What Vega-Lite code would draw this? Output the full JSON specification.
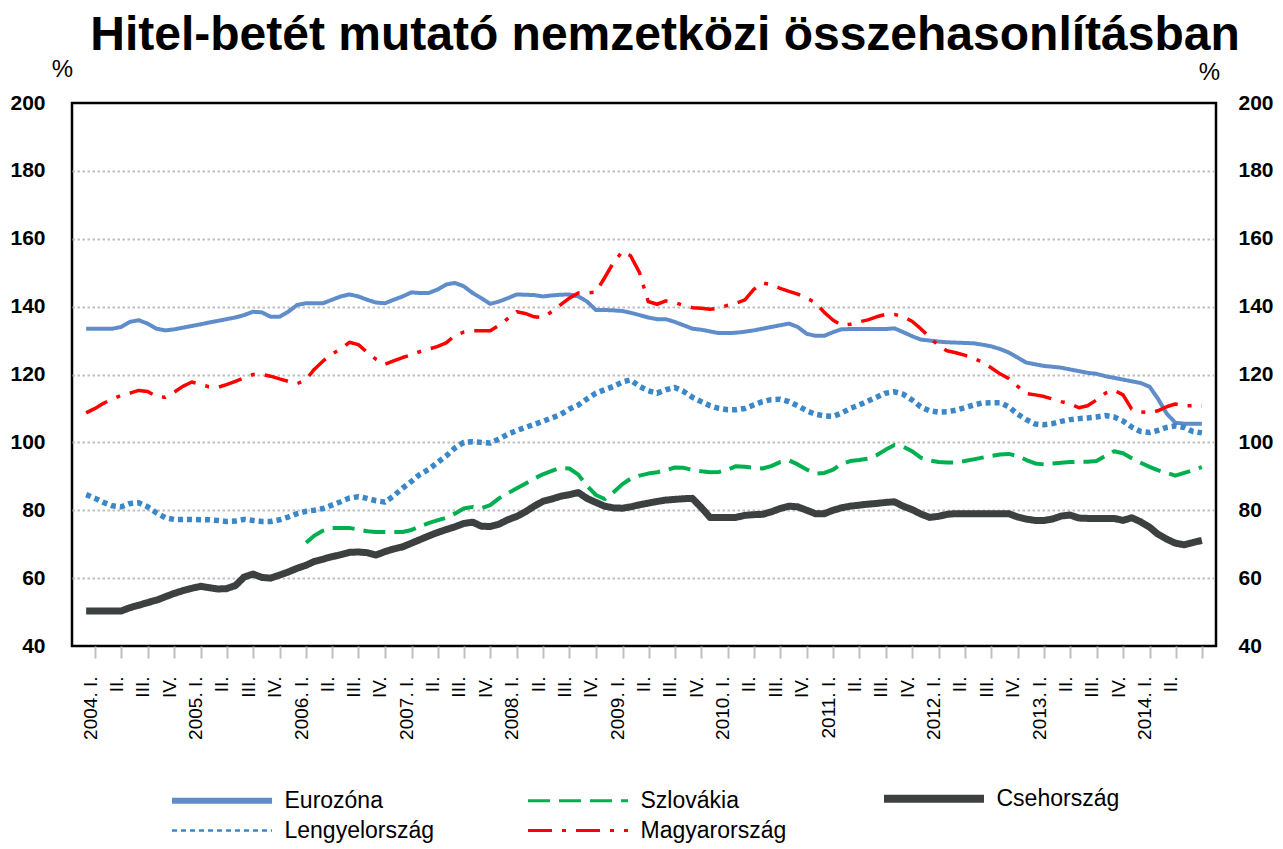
{
"$schema": "https://vega.github.io/schema/vega-lite/v6.json",
"width": 1144, "height": 543,
"autosize": {"type": "none"},
"padding": {"left": 72, "top": 103, "right": 67, "bottom": 203},
"background": "white",
"title": {"text": "Hitel-betét mutató nemzetközi összehasonlításban", "font": "Liberation Sans", "fontSize": 48, "fontWeight": "bold", "color": "black", "anchor": "middle", "frame": "group", "dx": 21, "offset": -3},
"data": {"values": [
{"d":"2004-01","Eurozóna":133.5,"Lengyelország":84.6,"Magyarország":108.7,"Csehország":50.3},
{"d":"2004-02","Eurozóna":133.5,"Lengyelország":83.5,"Magyarország":110,"Csehország":50.3},
{"d":"2004-03","Eurozóna":133.5,"Lengyelország":82.3,"Magyarország":111.5,"Csehország":50.3},
{"d":"2004-04","Eurozóna":133.5,"Lengyelország":81.3,"Magyarország":112.8,"Csehország":50.3},
{"d":"2004-05","Eurozóna":134,"Lengyelország":81,"Magyarország":113.8,"Csehország":50.3},
{"d":"2004-06","Eurozóna":135.5,"Lengyelország":82,"Magyarország":114.5,"Csehország":51.3},
{"d":"2004-07","Eurozóna":136,"Lengyelország":82.2,"Magyarország":115.3,"Csehország":52},
{"d":"2004-08","Eurozóna":135,"Lengyelország":81,"Magyarország":115,"Csehország":52.8},
{"d":"2004-09","Eurozóna":133.5,"Lengyelország":79.2,"Magyarország":113.5,"Csehország":53.5},
{"d":"2004-10","Eurozóna":133,"Lengyelország":77.8,"Magyarország":113.3,"Csehország":54.5},
{"d":"2004-11","Eurozóna":133.3,"Lengyelország":77.3,"Magyarország":114.8,"Csehország":55.5},
{"d":"2004-12","Eurozóna":133.8,"Lengyelország":77.3,"Magyarország":116.5,"Csehország":56.3},
{"d":"2005-01","Eurozóna":134.3,"Lengyelország":77.3,"Magyarország":117.8,"Csehország":57},
{"d":"2005-02","Eurozóna":134.8,"Lengyelország":77.2,"Magyarország":117,"Csehország":57.6},
{"d":"2005-03","Eurozóna":135.3,"Lengyelország":77.2,"Magyarország":116.4,"Csehország":57.2},
{"d":"2005-04","Eurozóna":135.8,"Lengyelország":77,"Magyarország":116.2,"Csehország":56.8},
{"d":"2005-05","Eurozóna":136.3,"Lengyelország":76.7,"Magyarország":117,"Csehország":56.9},
{"d":"2005-06","Eurozóna":136.8,"Lengyelország":76.8,"Magyarország":118,"Csehország":57.8},
{"d":"2005-07","Eurozóna":137.5,"Lengyelország":77.3,"Magyarország":119,"Csehország":60.3},
{"d":"2005-08","Eurozóna":138.5,"Lengyelország":77,"Magyarország":120,"Csehország":61.2},
{"d":"2005-09","Eurozóna":138.3,"Lengyelország":76.7,"Magyarország":120,"Csehország":60.2},
{"d":"2005-10","Eurozóna":137,"Lengyelország":76.7,"Magyarország":119.5,"Csehország":60},
{"d":"2005-11","Eurozóna":137,"Lengyelország":77.2,"Magyarország":118.7,"Csehország":60.9},
{"d":"2005-12","Eurozóna":138.5,"Lengyelország":78,"Magyarország":118,"Csehország":61.8},
{"d":"2006-01","Eurozóna":140.5,"Lengyelország":79,"Magyarország":117.3,"Csehország":62.9},
{"d":"2006-02","Eurozóna":141,"Lengyelország":79.7,"Magyarország":118.5,"Csehország":63.8,"Szlovákia":70.4},
{"d":"2006-03","Eurozóna":141,"Lengyelország":80,"Magyarország":121.5,"Csehország":64.9,"Szlovákia":72.5},
{"d":"2006-04","Eurozóna":141,"Lengyelország":80.5,"Magyarország":124,"Csehország":65.6,"Szlovákia":74},
{"d":"2006-05","Eurozóna":142,"Lengyelország":81.5,"Magyarország":126,"Csehország":66.3,"Szlovákia":74.8},
{"d":"2006-06","Eurozóna":143,"Lengyelország":82.5,"Magyarország":127.5,"Csehország":66.9,"Szlovákia":74.8},
{"d":"2006-07","Eurozóna":143.6,"Lengyelország":83.6,"Magyarország":129.5,"Csehország":67.6,"Szlovákia":74.8},
{"d":"2006-08","Eurozóna":143,"Lengyelország":84,"Magyarország":128.8,"Csehország":67.7,"Szlovákia":74.3},
{"d":"2006-09","Eurozóna":142,"Lengyelország":83.5,"Magyarország":126.5,"Csehország":67.5,"Szlovákia":73.8},
{"d":"2006-10","Eurozóna":141.2,"Lengyelország":82.8,"Magyarország":124.5,"Csehország":66.8,"Szlovákia":73.6},
{"d":"2006-11","Eurozóna":141,"Lengyelország":82.4,"Magyarország":123,"Csehország":67.8,"Szlovákia":73.6},
{"d":"2006-12","Eurozóna":142,"Lengyelország":84.2,"Magyarország":124,"Csehország":68.6,"Szlovákia":73.6},
{"d":"2007-01","Eurozóna":143,"Lengyelország":86.5,"Magyarország":125,"Csehország":69.2,"Szlovákia":73.6},
{"d":"2007-02","Eurozóna":144.2,"Lengyelország":88.5,"Magyarország":125.8,"Csehország":70.3,"Szlovákia":74.2},
{"d":"2007-03","Eurozóna":144,"Lengyelország":90.5,"Magyarország":126.7,"Csehország":71.3,"Szlovákia":75.2},
{"d":"2007-04","Eurozóna":144,"Lengyelország":92,"Magyarország":127.5,"Csehország":72.4,"Szlovákia":76.2},
{"d":"2007-05","Eurozóna":145,"Lengyelország":94,"Magyarország":128.2,"Csehország":73.4,"Szlovákia":77},
{"d":"2007-06","Eurozóna":146.5,"Lengyelország":96,"Magyarország":129.3,"Csehország":74.3,"Szlovákia":77.8},
{"d":"2007-07","Eurozóna":147,"Lengyelország":98.3,"Magyarország":131.5,"Csehország":75.1,"Szlovákia":79},
{"d":"2007-08","Eurozóna":146,"Lengyelország":100,"Magyarország":132.5,"Csehország":76.1,"Szlovákia":80.5},
{"d":"2007-09","Eurozóna":144,"Lengyelország":100.2,"Magyarország":132.9,"Csehország":76.5,"Szlovákia":81},
{"d":"2007-10","Eurozóna":142.5,"Lengyelország":100,"Magyarország":132.9,"Csehország":75.3,"Szlovákia":80.6},
{"d":"2007-11","Eurozóna":140.8,"Lengyelország":99.8,"Magyarország":132.9,"Csehország":75.2,"Szlovákia":81.5},
{"d":"2007-12","Eurozóna":141.5,"Lengyelország":101,"Magyarország":134.5,"Csehország":75.9,"Szlovákia":83.5},
{"d":"2008-01","Eurozóna":142.5,"Lengyelország":102.4,"Magyarország":136.5,"Csehország":77.2,"Szlovákia":85},
{"d":"2008-02","Eurozóna":143.6,"Lengyelország":103.5,"Magyarország":138.5,"Csehország":78.2,"Szlovákia":86.5},
{"d":"2008-03","Eurozóna":143.5,"Lengyelország":104.4,"Magyarország":138,"Csehország":79.5,"Szlovákia":87.8},
{"d":"2008-04","Eurozóna":143.4,"Lengyelország":105.3,"Magyarország":137,"Csehország":81.2,"Szlovákia":89.3},
{"d":"2008-05","Eurozóna":143,"Lengyelország":106.2,"Magyarország":136.8,"Csehország":82.6,"Szlovákia":90.6},
{"d":"2008-06","Eurozóna":143.3,"Lengyelország":107.2,"Magyarország":138.5,"Csehország":83.3,"Szlovákia":91.6},
{"d":"2008-07","Eurozóna":143.5,"Lengyelország":108.2,"Magyarország":140.5,"Csehország":84.1,"Szlovákia":92.5},
{"d":"2008-08","Eurozóna":143.6,"Lengyelország":109.8,"Magyarország":142.5,"Csehország":84.6,"Szlovákia":92.3},
{"d":"2008-09","Eurozóna":143,"Lengyelország":111,"Magyarország":144,"Csehország":85.2,"Szlovákia":90.5},
{"d":"2008-10","Eurozóna":141.5,"Lengyelország":112.8,"Magyarország":144,"Csehország":83.5,"Szlovákia":87.2},
{"d":"2008-11","Eurozóna":139,"Lengyelország":114.5,"Magyarország":144.3,"Csehország":82.3,"Szlovákia":84.5},
{"d":"2008-12","Eurozóna":139,"Lengyelország":115.5,"Magyarország":148.5,"Csehország":81.2,"Szlovákia":83.3},
{"d":"2009-01","Eurozóna":138.9,"Lengyelország":116.5,"Magyarország":153,"Csehország":80.7,"Szlovákia":85.3},
{"d":"2009-02","Eurozóna":138.7,"Lengyelország":117.8,"Magyarország":156.3,"Csehország":80.6,"Szlovákia":87.7},
{"d":"2009-03","Eurozóna":138.2,"Lengyelország":118.4,"Magyarország":155,"Csehország":81,"Szlovákia":89.3},
{"d":"2009-04","Eurozóna":137.5,"Lengyelország":116.5,"Magyarország":150,"Csehország":81.6,"Szlovákia":90.2},
{"d":"2009-05","Eurozóna":136.8,"Lengyelország":115.2,"Magyarország":141.5,"Csehország":82.1,"Szlovákia":90.8},
{"d":"2009-06","Eurozóna":136.3,"Lengyelország":114.5,"Magyarország":140.7,"Csehország":82.6,"Szlovákia":91.2},
{"d":"2009-07","Eurozóna":136.3,"Lengyelország":115.5,"Magyarország":141.7,"Csehország":83,"Szlovákia":91.8},
{"d":"2009-08","Eurozóna":135.5,"Lengyelország":116.2,"Magyarország":141.2,"Csehország":83.2,"Szlovákia":92.6},
{"d":"2009-09","Eurozóna":134.5,"Lengyelország":115,"Magyarország":140.3,"Csehország":83.4,"Szlovákia":92.5},
{"d":"2009-10","Eurozóna":133.5,"Lengyelország":113.3,"Magyarország":139.7,"Csehország":83.5,"Szlovákia":91.9},
{"d":"2009-11","Eurozóna":133.2,"Lengyelország":112,"Magyarország":139.5,"Csehország":80.8,"Szlovákia":91.5},
{"d":"2009-12","Eurozóna":132.7,"Lengyelország":110.8,"Magyarország":139.2,"Csehország":77.9,"Szlovákia":91.2},
{"d":"2010-01","Eurozóna":132.2,"Lengyelország":110,"Magyarország":139.6,"Csehország":77.9,"Szlovákia":91.3},
{"d":"2010-02","Eurozóna":132.2,"Lengyelország":109.6,"Magyarország":140.4,"Csehország":77.9,"Szlovákia":92},
{"d":"2010-03","Eurozóna":132.3,"Lengyelország":109.6,"Magyarország":141,"Csehország":77.9,"Szlovákia":93},
{"d":"2010-04","Eurozóna":132.6,"Lengyelország":110,"Magyarország":142,"Csehország":78.5,"Szlovákia":92.8},
{"d":"2010-05","Eurozóna":133,"Lengyelország":111,"Magyarország":145,"Csehország":78.7,"Szlovákia":92.5},
{"d":"2010-06","Eurozóna":133.5,"Lengyelország":112,"Magyarország":147,"Csehország":78.8,"Szlovákia":92.3},
{"d":"2010-07","Eurozóna":134,"Lengyelország":112.6,"Magyarország":146.5,"Csehország":79.5,"Szlovákia":93},
{"d":"2010-08","Eurozóna":134.5,"Lengyelország":112.7,"Magyarország":145.4,"Csehország":80.5,"Szlovákia":94.2},
{"d":"2010-09","Eurozóna":135,"Lengyelország":112,"Magyarország":144.5,"Csehország":81.2,"Szlovákia":94.7},
{"d":"2010-10","Eurozóna":134,"Lengyelország":110.8,"Magyarország":143.7,"Csehország":81,"Szlovákia":93.5},
{"d":"2010-11","Eurozóna":132,"Lengyelország":109.3,"Magyarország":142.5,"Csehország":80,"Szlovákia":92},
{"d":"2010-12","Eurozóna":131.4,"Lengyelország":108.3,"Magyarország":141.2,"Csehország":79,"Szlovákia":90.8},
{"d":"2011-01","Eurozóna":131.4,"Lengyelország":107.8,"Magyarország":138.3,"Csehország":79,"Szlovákia":91},
{"d":"2011-02","Eurozóna":132.5,"Lengyelország":107.7,"Magyarország":136,"Csehország":80,"Szlovákia":92},
{"d":"2011-03","Eurozóna":133.3,"Lengyelország":108.6,"Magyarország":134.5,"Csehország":80.7,"Szlovákia":93.6},
{"d":"2011-04","Eurozóna":133.4,"Lengyelország":110,"Magyarország":134.8,"Csehország":81.2,"Szlovákia":94.5},
{"d":"2011-05","Eurozóna":133.4,"Lengyelország":111,"Magyarország":135.5,"Csehország":81.5,"Szlovákia":94.8},
{"d":"2011-06","Eurozóna":133.4,"Lengyelország":112.2,"Magyarország":136.1,"Csehország":81.8,"Szlovákia":95.2},
{"d":"2011-07","Eurozóna":133.4,"Lengyelország":113.3,"Magyarország":137,"Csehország":82,"Szlovákia":96.2},
{"d":"2011-08","Eurozóna":133.4,"Lengyelország":114.5,"Magyarország":137.7,"Csehország":82.3,"Szlovákia":97.8},
{"d":"2011-09","Eurozóna":133.6,"Lengyelország":114.9,"Magyarország":137.7,"Csehország":82.5,"Szlovákia":99.2},
{"d":"2011-10","Eurozóna":132.5,"Lengyelország":114.2,"Magyarország":137,"Csehország":81.2,"Szlovákia":98.8},
{"d":"2011-11","Eurozóna":131.3,"Lengyelország":112.5,"Magyarország":135.7,"Csehország":80.2,"Szlovákia":97.4},
{"d":"2011-12","Eurozóna":130.3,"Lengyelország":110.5,"Magyarország":133.5,"Csehország":78.9,"Szlovákia":95.5},
{"d":"2012-01","Eurozóna":130,"Lengyelország":109.3,"Magyarország":131,"Csehország":77.9,"Szlovákia":94.7},
{"d":"2012-02","Eurozóna":129.7,"Lengyelország":108.9,"Magyarország":128.5,"Csehország":78.2,"Szlovákia":94.2},
{"d":"2012-03","Eurozóna":129.5,"Lengyelország":109,"Magyarország":127,"Csehország":78.8,"Szlovákia":94.1},
{"d":"2012-04","Eurozóna":129.4,"Lengyelország":109.5,"Magyarország":126.4,"Csehország":79,"Szlovákia":94.1},
{"d":"2012-05","Eurozóna":129.3,"Lengyelország":110.2,"Magyarország":125.7,"Csehország":79,"Szlovákia":94.5},
{"d":"2012-06","Eurozóna":129.2,"Lengyelország":111,"Magyarország":124.8,"Csehország":79,"Szlovákia":95},
{"d":"2012-07","Eurozóna":128.8,"Lengyelország":111.6,"Magyarország":123.7,"Csehország":79,"Szlovákia":95.5},
{"d":"2012-08","Eurozóna":128.3,"Lengyelország":111.7,"Magyarország":122,"Csehország":79,"Szlovákia":96},
{"d":"2012-09","Eurozóna":127.5,"Lengyelország":111.7,"Magyarország":120.2,"Csehország":79,"Szlovákia":96.4},
{"d":"2012-10","Eurozóna":126.5,"Lengyelország":110.5,"Magyarország":118.8,"Csehország":79,"Szlovákia":96.6},
{"d":"2012-11","Eurozóna":125,"Lengyelország":108.3,"Magyarország":116.5,"Csehország":78,"Szlovákia":96},
{"d":"2012-12","Eurozóna":123.5,"Lengyelország":106.7,"Magyarország":114.4,"Csehország":77.4,"Szlovákia":94.8},
{"d":"2013-01","Eurozóna":123,"Lengyelország":105.4,"Magyarország":114,"Csehország":77,"Szlovákia":93.8},
{"d":"2013-02","Eurozóna":122.5,"Lengyelország":105.2,"Magyarország":113.5,"Csehország":77,"Szlovákia":93.5},
{"d":"2013-03","Eurozóna":122.3,"Lengyelország":105.5,"Magyarország":112.8,"Csehország":77.4,"Szlovákia":93.8},
{"d":"2013-04","Eurozóna":122,"Lengyelország":106.2,"Magyarország":112,"Csehország":78.3,"Szlovákia":94},
{"d":"2013-05","Eurozóna":121.5,"Lengyelország":106.7,"Magyarország":111.4,"Csehország":78.6,"Szlovákia":94.2},
{"d":"2013-06","Eurozóna":121,"Lengyelország":107,"Magyarország":110.2,"Csehország":77.7,"Szlovákia":94.3},
{"d":"2013-07","Eurozóna":120.5,"Lengyelország":107.2,"Magyarország":110.8,"Csehország":77.6,"Szlovákia":94.3},
{"d":"2013-08","Eurozóna":120.2,"Lengyelország":107.5,"Magyarország":112.5,"Csehország":77.6,"Szlovákia":94.5},
{"d":"2013-09","Eurozóna":119.5,"Lengyelország":107.9,"Magyarország":114.5,"Csehország":77.6,"Szlovákia":96},
{"d":"2013-10","Eurozóna":119,"Lengyelország":107.5,"Magyarország":115.4,"Csehország":77.6,"Szlovákia":97.4},
{"d":"2013-11","Eurozóna":118.5,"Lengyelország":106.3,"Magyarország":114,"Csehország":77,"Szlovákia":96.8},
{"d":"2013-12","Eurozóna":118,"Lengyelország":104.5,"Magyarország":109.8,"Csehország":77.8,"Szlovákia":95.3},
{"d":"2014-01","Eurozóna":117.5,"Lengyelország":103.2,"Magyarország":109,"Csehország":76.6,"Szlovákia":94},
{"d":"2014-02","Eurozóna":116.4,"Lengyelország":102.9,"Magyarország":108.7,"Csehország":75,"Szlovákia":92.8},
{"d":"2014-03","Eurozóna":113,"Lengyelország":103.5,"Magyarország":109.3,"Csehország":73,"Szlovákia":91.8},
{"d":"2014-04","Eurozóna":108.5,"Lengyelország":104.4,"Magyarország":110.5,"Csehország":71.5,"Szlovákia":91},
{"d":"2014-05","Eurozóna":105.8,"Lengyelország":104.9,"Magyarország":111.3,"Csehország":70.3,"Szlovákia":90.2},
{"d":"2014-06","Eurozóna":105.5,"Lengyelország":104.4,"Magyarország":110.8,"Csehország":69.8,"Szlovákia":91},
{"d":"2014-07","Eurozóna":105.5,"Lengyelország":103.2,"Magyarország":110.8,"Csehország":70.5,"Szlovákia":91.8},
{"d":"2014-08","Eurozóna":105.5,"Lengyelország":102.8,"Magyarország":110.8,"Csehország":71.1,"Szlovákia":92.7}
]},
"transform": [{"fold": ["Csehország", "Eurozóna", "Lengyelország", "Szlovákia", "Magyarország"], "as": ["series", "v"]}],
"layer": [
 {
  "mark": {"type": "line", "strokeCap": "butt", "strokeJoin": "round"},
  "encoding": {
   "x": {"field": "d", "type": "temporal",
     "scale": {"type": "utc", "domain": [{"year": 2003, "month": 11, "date": 13, "utc": true}, {"year": 2014, "month": 9, "date": 19, "utc": true}]},
     "axis": {"title": null, "grid": false, "domain": false, "tickCount": {"interval": "month", "step": 3},
       "labelExpr": "utcmonth(datum.value)==0 ? utcyear(datum.value) + '. I.' : utcmonth(datum.value)==3 ? 'II.' : utcmonth(datum.value)==6 ? (utcyear(datum.value)>=2014 ? '' : 'III.') : 'IV.'",
       "labelAngle": 270, "labelAlign": "right", "labelBaseline": "middle", "labelFontSize": 19, "labelColor": "black", "labelPadding": 18,
       "labelOverlap": false, "labelFlush": false, "labelBound": false, "tickOffset": 9, "labelOffset": -5,
       "tickColor": "#BFBFBF", "tickWidth": 2, "tickSize": 12}},
   "y": {"field": "v", "type": "quantitative",
     "scale": {"domain": [40, 200], "nice": false, "zero": false},
     "axis": {"orient": "left", "values": [40, 60, 80, 100, 120, 140, 160, 180, 200], "grid": true,
       "gridColor": {"condition": {"test": "datum.value == 40 || datum.value == 200", "value": "transparent"}, "value": "#BFBFBF"},
       "gridDash": [2.5, 2.5], "gridWidth": 2, "ticks": false, "domain": false,
       "labelFontSize": 21, "labelFontWeight": "bold", "labelColor": "black", "labelPadding": 27,
       "title": "%", "titleAngle": 0, "titleFontSize": 24, "titleFontWeight": "normal", "titleColor": "black",
       "titleX": -10, "titleY": -34, "titleAlign": "center", "titleBaseline": "middle"}},
   "color": {"field": "series", "type": "nominal",
     "scale": {"domain": ["Eurozóna", "Szlovákia", "Csehország", "Lengyelország", "Magyarország"], "range": ["#5F8DC9", "#00B050", "#3D4040", "#3C87C7", "#FF0000"]},
     "legend": {"orient": "none", "legendX": 100, "legendY": 684, "columns": 3, "direction": "horizontal", "title": null,
       "symbolType": "stroke", "symbolSize": 10000, "symbolOffset": 38.5, "labelFontSize": 23, "labelColor": "black", "labelOffset": 51,
       "rowPadding": 4, "columnPadding": 77, "gridAlign": "all", "labelLimit": 400,
       "encode": {"symbols": {"update": {"strokeWidth": {"signal": "datum.value === 'Csehország' ? 8 : datum.value === 'Eurozóna' ? 6 : datum.value === 'Lengyelország' ? 2.5 : 3"}}}}}},
   "strokeDash": {"field": "series", "type": "nominal",
     "scale": {"domain": ["Eurozóna", "Szlovákia", "Csehország", "Lengyelország", "Magyarország"], "range": [[1, 0], [22, 9], [1, 0], [5, 4], [24, 10, 4, 10]]}},
   "strokeWidth": {"condition": [{"test": "datum.series === 'Csehország'", "value": 7}, {"test": "datum.series === 'Lengyelország'", "value": 5.5}, {"test": "datum.series === 'Magyarország'", "value": 3.5}], "value": 4}
  }
 },
 {
  "mark": {"type": "point", "opacity": 0},
  "encoding": {
   "x": {"field": "d", "type": "temporal"},
   "y": {"field": "v", "type": "quantitative",
     "axis": {"orient": "right", "values": [40, 60, 80, 100, 120, 140, 160, 180, 200], "grid": false, "ticks": false, "domain": false,
       "labelFontSize": 21, "labelFontWeight": "bold", "labelColor": "black", "labelPadding": 22,
       "title": "%", "titleAngle": 0, "titleFontSize": 24, "titleFontWeight": "normal", "titleColor": "black",
       "titleX": -7, "titleY": -31, "titleAlign": "center", "titleBaseline": "middle"}}
  }
 }
],
"resolve": {"axis": {"y": "independent"}},
"config": {"view": {"stroke": "black", "strokeWidth": 2.5}, "font": "Liberation Sans"}
}
